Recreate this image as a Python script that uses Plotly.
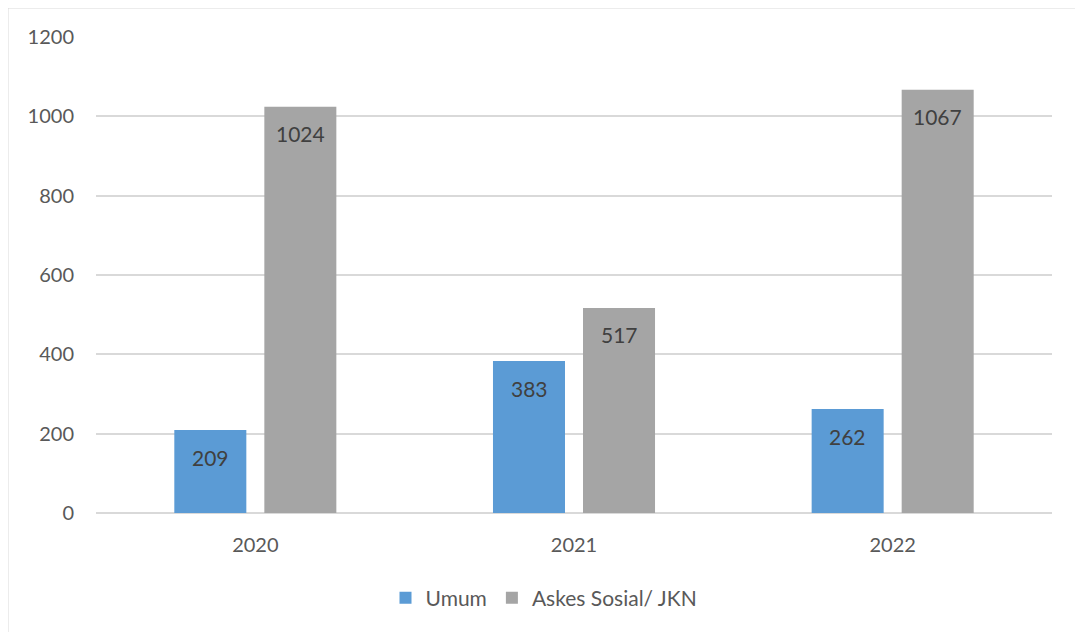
import plotly.graph_objects as go

years = ["2020", "2021", "2022"]
umum = [209, 383, 262]
askes = [1024, 517, 1067]
series_names = ["Umum", "Askes Sosial/ JKN"]
colors = ["#5B9BD5", "#A5A5A5"]

FONT = "Lato, 'Open Sans', sans-serif"

# page body has an 8px margin; figure coordinates are page coordinates minus 8
OFF = 8
W, H = 1075, 624
L, T = 96 - OFF, 37 - OFF
pw, ph = 956, 476
R = W - L - pw
B = H - T - ph

def px_x(x):
    return (x - OFF - L) / pw

def px_y(y):
    return (T + ph - (y - OFF)) / ph

fig = go.Figure()
for name, vals, col in zip(series_names, [umum, askes], colors):
    fig.add_trace(go.Bar(
        x=years, y=vals, name=name, marker_color=col, marker_line_width=0,
    ))

# data labels: category index on the category axis, value on the y axis
annotations = []
for vals, shift in zip([umum, askes], [-45, 45]):
    for idx, v in enumerate(vals):
        annotations.append(dict(
            x=idx, y=v, xref="x", yref="y", text=str(v), showarrow=False,
            xshift=shift, yshift=-27, font=dict(family=FONT, size=21, color="#404040"),
        ))

fig.update_layout(
    width=W, height=H,
    margin=dict(l=L, r=R, t=T, b=B),
    paper_bgcolor="white", plot_bgcolor="white",
    barmode="group", bargap=0.435, bargroupgap=0.2,
    font=dict(family=FONT, size=20, color="#595959"),
    showlegend=True,
    legend=dict(orientation="h", x=0.5 - 30 / pw, xanchor="center", y=px_y(598), yanchor="middle",
                font=dict(family=FONT, size=21, color="#595959"),
                traceorder="normal"),
    annotations=annotations,
    xaxis=dict(type="category", showgrid=False, showline=False, ticks="",
               tickfont=dict(size=20, color="#595959"), ticklabelstandoff=18),
    yaxis=dict(range=[0, 1200], dtick=200, showgrid=True, gridcolor="#D9D9D9", gridwidth=1.5,
               zeroline=True, zerolinecolor="#D9D9D9", zerolinewidth=1.5, showline=False,
               ticks="", tickfont=dict(size=20, color="#595959"), ticklabelstandoff=21),
    shapes=[dict(type="rect", xref="paper", yref="paper",
                 x0=px_x(7.5), x1=px_x(1081), y0=px_y(645), y1=px_y(7.5),
                 line=dict(color="#D9D9D9", width=2), fillcolor="rgba(0,0,0,0)", layer="below")],
)

fig.write_html("out.html")
